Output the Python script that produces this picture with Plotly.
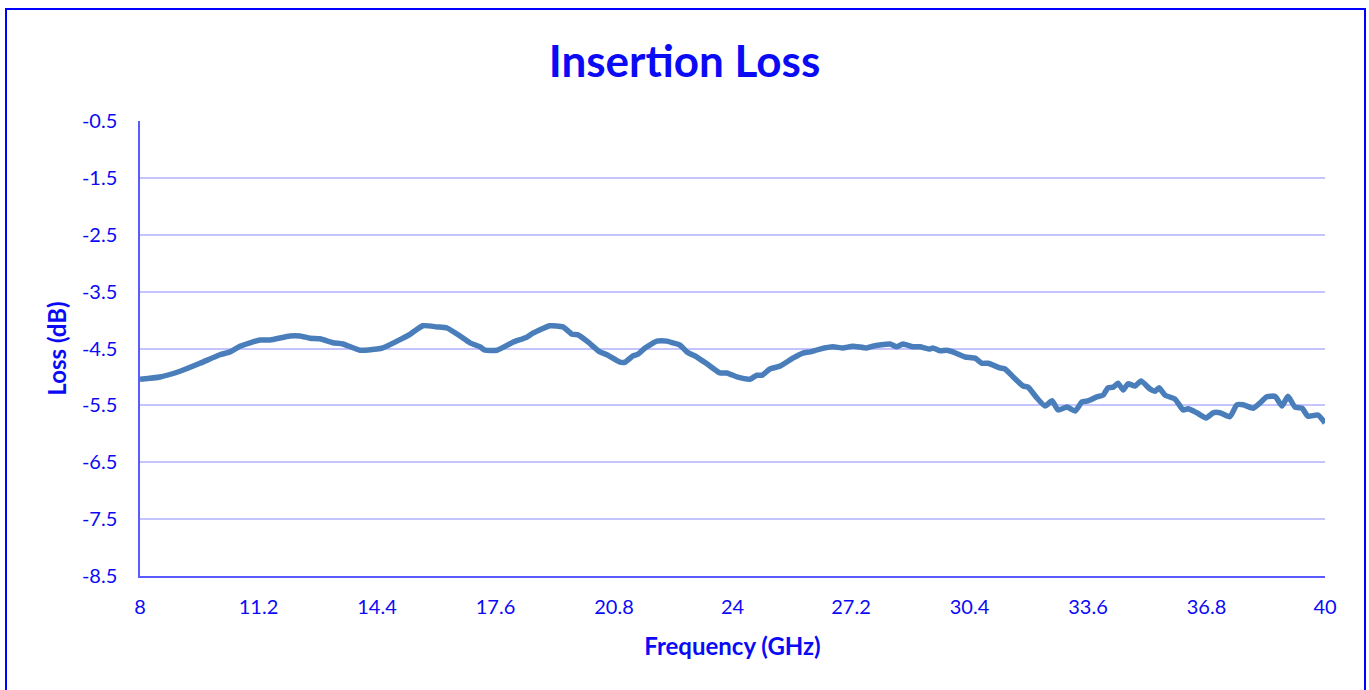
import plotly.graph_objects as go

freq_ghz = [8.00, 8.54, 9.08, 9.62, 10.16, 10.43, 10.70, 10.97, 11.24, 11.51, 12.05, 12.32, 12.59, 12.86,
            13.21, 13.48, 13.94, 14.40, 14.56, 14.94, 15.29, 15.64, 16.02, 16.29, 16.64, 16.91, 17.18, 17.32,
            17.64, 18.07, 18.45, 18.61, 19.07, 19.42, 19.67, 19.83, 20.07, 20.42, 20.61, 20.96, 21.10, 21.31,
            21.45, 21.64, 21.96, 22.23, 22.39, 22.58, 22.77, 23.04, 23.31, 23.66, 23.85, 24.12, 24.47, 24.66,
            24.80, 25.01, 25.28, 25.63, 25.90, 26.09, 26.36, 26.71, 26.98, 27.25, 27.63, 27.79, 28.25, 28.44,
            28.60, 28.87, 29.06, 29.33, 29.41, 29.60, 29.79, 29.95, 30.28, 30.55, 30.74, 30.90, 31.22, 31.36,
            31.58, 31.85, 31.98, 32.22, 32.44, 32.63, 32.79, 33.03, 33.25, 33.44, 33.60, 33.84, 34.01, 34.14,
            34.28, 34.41, 34.55, 34.68, 34.87, 35.03, 35.27, 35.41, 35.52, 35.68, 35.95, 36.17, 36.30, 36.54,
            36.79, 36.98, 37.16, 37.43, 37.62, 37.79, 38.06, 38.24, 38.43, 38.65, 38.84, 39.00, 39.19, 39.38,
            39.54, 39.81, 40.00]
loss_db = [-5.04, -5.00, -4.90, -4.76, -4.61, -4.56, -4.46, -4.40, -4.35, -4.35, -4.28, -4.28, -4.32, -4.33,
           -4.40, -4.42, -4.53, -4.51, -4.49, -4.37, -4.25, -4.10, -4.12, -4.14, -4.28, -4.40, -4.47, -4.53,
           -4.53, -4.39, -4.30, -4.23, -4.10, -4.12, -4.25, -4.26, -4.37, -4.56, -4.61, -4.74, -4.74, -4.63,
           -4.60, -4.49, -4.37, -4.37, -4.40, -4.44, -4.56, -4.65, -4.77, -4.93, -4.93, -5.00, -5.04, -4.97,
           -4.97, -4.86, -4.81, -4.67, -4.58, -4.56, -4.51, -4.47, -4.49, -4.46, -4.49, -4.46, -4.42, -4.47,
           -4.42, -4.47, -4.47, -4.51, -4.49, -4.54, -4.53, -4.56, -4.65, -4.67, -4.76, -4.76, -4.84, -4.86,
           -5.00, -5.16, -5.18, -5.37, -5.51, -5.42, -5.58, -5.53, -5.60, -5.44, -5.42, -5.35, -5.32, -5.19,
           -5.18, -5.11, -5.23, -5.12, -5.16, -5.07, -5.21, -5.25, -5.19, -5.32, -5.39, -5.58, -5.56, -5.63,
           -5.72, -5.63, -5.63, -5.70, -5.49, -5.49, -5.55, -5.46, -5.35, -5.34, -5.51, -5.34, -5.53, -5.55,
           -5.69, -5.67, -5.81]

x_ticks = [8, 11.2, 14.4, 17.6, 20.8, 24, 27.2, 30.4, 33.6, 36.8, 40]
x_tick_labels = ["8", "11.2", "14.4", "17.6", "20.8", "24", "27.2", "30.4", "33.6", "36.8", "40"]
y_ticks = [-0.5, -1.5, -2.5, -3.5, -4.5, -5.5, -6.5, -7.5, -8.5]
y_tick_labels = ["-0.5", "-1.5", "-2.5", "-3.5", "-4.5", "-5.5", "-6.5", "-7.5", "-8.5"]

BLUE = "#0A0AF5"
FONT = "Lato"

W, H = 1369, 690
L, R, T, B = 140, 44, 121, H - 576
PW, PH = W - L - R, H - T - B

fig = go.Figure()
fig.add_trace(go.Scatter(x=freq_ghz, y=loss_db, mode="lines",
                         line=dict(color="#4A7EBB", width=5.5, shape="spline", smoothing=0.5),
                         showlegend=False, hoverinfo="x+y"))

fig.update_layout(
    width=W, height=H,
    margin=dict(l=L, r=R, t=T, b=B),
    paper_bgcolor="white", plot_bgcolor="white",
    font=dict(family=FONT, color=BLUE, size=20),
    title=dict(text="<b>Insertion Loss</b>", x=0.5, xanchor="center",
               y=1 - 62 / H, yanchor="middle",
               font=dict(family=FONT, size=44, color=BLUE)),
    xaxis=dict(range=[8, 40], tickvals=x_ticks, ticktext=x_tick_labels, showgrid=False,
               zeroline=False, showline=True, linecolor="#5A5AFF", linewidth=1.5, ticks="",
               ticklabelstandoff=12,
               tickfont=dict(family=FONT, size=20, color=BLUE),
               title=dict(text="<b>Frequency (GHz)</b>", font=dict(family=FONT, size=24, color=BLUE),
                          standoff=21)),
    yaxis=dict(range=[-8.5, -0.5], tickvals=y_ticks, ticktext=y_tick_labels, showgrid=True,
               gridcolor="#C4C4FF", gridwidth=1.5, zeroline=False, showline=True,
               linecolor="#5A5AFF", linewidth=1.5, ticks="", ticklabelstandoff=17,
               tickfont=dict(family=FONT, size=20, color=BLUE),
               title=dict(text="<b>Loss (dB)</b>", font=dict(family=FONT, size=24, color=BLUE),
                          standoff=8)),
    shapes=[dict(type="rect", xref="paper", yref="paper",
                 x0=(6 - L) / PW, x1=(1365 - L) / PW,
                 y0=(576 - 720) / PH, y1=(576 - 9) / PH,
                 line=dict(color="#0000FF", width=2), fillcolor="rgba(0,0,0,0)", layer="below")],
)

fig.write_html("out.html", config={"displayModeBar": False},
               post_script="document.body.style.margin='0';")
